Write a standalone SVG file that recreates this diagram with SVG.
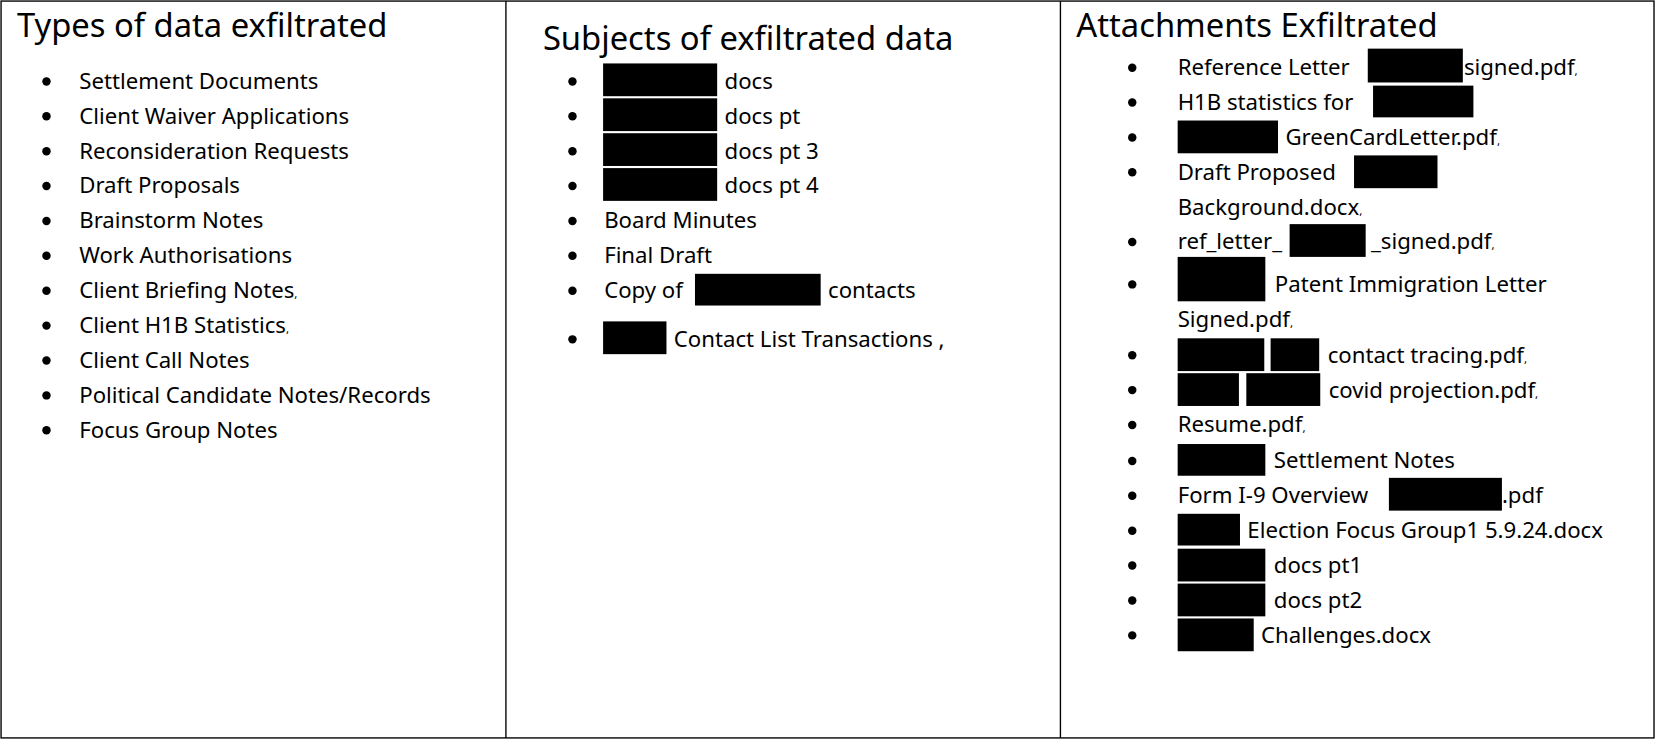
<svg xmlns="http://www.w3.org/2000/svg" width="1655" height="739" viewBox="0 0 1655 739">
<style>
text{font-family:"Noto Sans","Open Sans","DejaVu Sans",sans-serif;fill:#000}
.t{font-size:31px}
.i{font-size:21px}
.s{font-size:11px}
.r{fill:#000}
</style>
<rect width="1655" height="739" fill="#fff"/>
<g transform="scale(1.0562,1.0572)">
<g id="frame" fill="none" stroke="#000" stroke-width="1.3">
<rect x="1" y="1" width="1565" height="697"/>
<line x1="479" y1="1" x2="479" y2="698"/>
<line x1="1004" y1="1" x2="1004" y2="698"/>
</g>
<g id="col1">
<text class="t" x="16" y="35">Types of data exfiltrated</text>
<g class="r">
<circle cx="44" cy="77" r="4"/><circle cx="44" cy="110" r="4"/><circle cx="44" cy="143" r="4"/><circle cx="44" cy="176" r="4"/><circle cx="44" cy="209" r="4"/><circle cx="44" cy="242" r="4"/><circle cx="44" cy="275" r="4"/><circle cx="44" cy="308" r="4"/><circle cx="44" cy="341" r="4"/><circle cx="44" cy="374" r="4"/><circle cx="44" cy="407" r="4"/>
</g>
<text class="i" x="75" y="84">Settlement Documents</text>
<text class="i" x="75" y="117">Client Waiver Applications</text>
<text class="i" x="75" y="150">Reconsideration Requests</text>
<text class="i" x="75" y="183">Draft Proposals</text>
<text class="i" x="75" y="216">Brainstorm Notes</text>
<text class="i" x="75" y="249">Work Authorisations</text>
<text class="i" x="75" y="282">Client Briefing Notes<tspan class="s">,</tspan></text>
<text class="i" x="75" y="315">Client H1B Statistics<tspan class="s">,</tspan></text>
<text class="i" x="75" y="348">Client Call Notes</text>
<text class="i" x="75" y="381">Political Candidate Notes/Records</text>
<text class="i" x="75" y="414">Focus Group Notes</text>
</g>
<g id="col2">
<text class="t" x="514" y="47">Subjects of exfiltrated data</text>
<g class="r">
<circle cx="542" cy="77" r="4"/><circle cx="542" cy="110" r="4"/><circle cx="542" cy="143" r="4"/><circle cx="542" cy="176" r="4"/><circle cx="542" cy="209" r="4"/><circle cx="542" cy="242" r="4"/><circle cx="542" cy="275" r="4"/><circle cx="542" cy="321" r="4"/>
<rect x="571" y="60" width="108" height="31"/><rect x="571" y="93" width="108" height="31"/><rect x="571" y="126" width="108" height="31"/><rect x="571" y="159" width="108" height="31"/>
<rect x="658" y="259" width="119" height="30"/><rect x="571" y="304" width="60" height="31"/>
</g>
<text class="i" x="686" y="84">docs</text>
<text class="i" x="686" y="117">docs pt</text>
<text class="i" x="686" y="150">docs pt 3</text>
<text class="i" x="686" y="183">docs pt 4</text>
<text class="i" x="572" y="216">Board Minutes</text>
<text class="i" x="572" y="249">Final Draft</text>
<text class="i" x="572" y="282">Copy of</text>
<text class="i" x="784" y="282">contacts</text>
<text class="i" x="638" y="328">Contact List Transactions ,</text>
</g>
<g id="col3">
<text class="t" x="1019" y="35">Attachments Exfiltrated</text>
<g class="r">
<circle cx="1072" cy="64" r="4"/><circle cx="1072" cy="97" r="4"/><circle cx="1072" cy="130" r="4"/><circle cx="1072" cy="163" r="4"/><circle cx="1072" cy="229" r="4"/><circle cx="1072" cy="269" r="4"/><circle cx="1072" cy="336" r="4"/><circle cx="1072" cy="369" r="4"/><circle cx="1072" cy="402" r="4"/><circle cx="1072" cy="436" r="4"/><circle cx="1072" cy="469" r="4"/><circle cx="1072" cy="502" r="4"/><circle cx="1072" cy="535" r="4"/><circle cx="1072" cy="568" r="4"/><circle cx="1072" cy="601" r="4"/>
<rect x="1295" y="46" width="90" height="32"/>
<rect x="1300" y="81" width="95" height="30"/>
<rect x="1115" y="114" width="95" height="31"/>
<rect x="1282" y="147" width="79" height="31"/>
<rect x="1221" y="212" width="72" height="31"/>
<rect x="1115" y="243" width="83" height="42"/>
<rect x="1115" y="320" width="82" height="31"/><rect x="1203" y="320" width="46" height="31"/>
<rect x="1115" y="353" width="58" height="31"/><rect x="1180" y="353" width="70" height="31"/>
<rect x="1115" y="420" width="83" height="30"/>
<rect x="1315" y="452" width="107" height="31"/>
<rect x="1115" y="486" width="59" height="30"/>
<rect x="1115" y="519" width="83" height="31"/>
<rect x="1115" y="552" width="83" height="31"/>
<rect x="1115" y="585" width="72" height="31"/>
</g>
<text class="i" x="1115" y="71">Reference Letter</text>
<text class="i" x="1386" y="71">signed.pdf<tspan class="s">,</tspan></text>
<text class="i" x="1115" y="104">H1B statistics for</text>
<text class="i" x="1217" y="137">GreenCardLetter.pdf<tspan class="s">,</tspan></text>
<text class="i" x="1115" y="170">Draft Proposed</text>
<text class="i" x="1115" y="203">Background.docx<tspan class="s">,</tspan></text>
<text class="i" x="1115" y="236">ref_letter_</text>
<text class="i" x="1298" y="236">_signed.pdf<tspan class="s">,</tspan></text>
<text class="i" x="1207" y="276">Patent Immigration Letter</text>
<text class="i" x="1115" y="309">Signed.pdf<tspan class="s">,</tspan></text>
<text class="i" x="1257" y="343">contact tracing.pdf<tspan class="s">,</tspan></text>
<text class="i" x="1258" y="376">covid projection.pdf<tspan class="s">,</tspan></text>
<text class="i" x="1115" y="409">Resume.pdf<tspan class="s">,</tspan></text>
<text class="i" x="1206" y="443">Settlement Notes</text>
<text class="i" x="1115" y="476">Form I-9 Overview</text>
<text class="i" x="1422" y="476">.pdf</text>
<text class="i" x="1181" y="509">Election Focus Group1 5.9.24.docx</text>
<text class="i" x="1206" y="542">docs pt1</text>
<text class="i" x="1206" y="575">docs pt2</text>
<text class="i" x="1194" y="608">Challenges.docx</text>
</g>
</g>
</svg>
